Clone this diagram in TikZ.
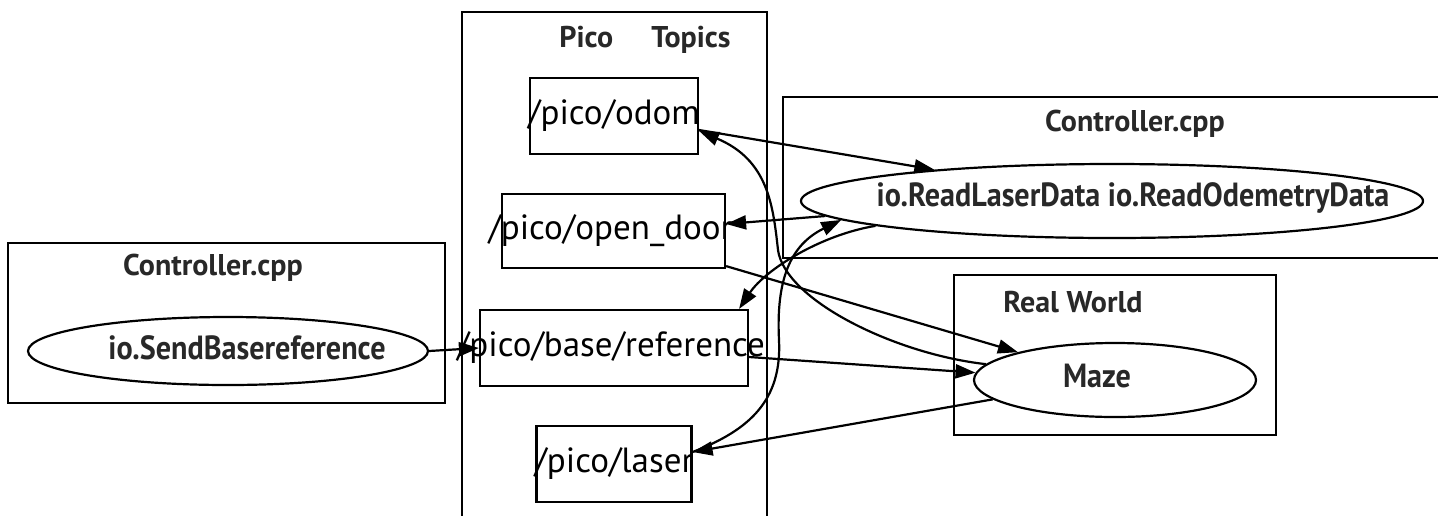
\documentclass[tikz,border=0pt]{standalone}
\usepackage{fontspec}
\setmainfont{PT Sans}
\newfontfamily\ellfont[FakeStretch=0.9]{PT Sans}
\usetikzlibrary{arrows.meta,shapes.geometric}
\definecolor{txtgray}{RGB}{40,40,40}
\begin{document}
\begin{tikzpicture}[x=1pt,y=-1pt,
  frame/.style={draw, line width=2.2pt, inner sep=0pt},
  topicbox/.style={draw, line width=2.2pt, inner sep=0pt, minimum height=76pt},
  topictext/.style={font=\fontsize{35}{42}\selectfont, inner sep=0pt},
  titletext/.style={font=\fontsize{30}{36}\selectfont\bfseries, text=txtgray, inner sep=0pt},
  ellnode/.style={draw, ellipse, line width=2.2pt, inner sep=0pt},
  elltext/.style={font=\ellfont\fontsize{33.5}{40}\selectfont\bfseries, text=txtgray, inner sep=0pt},
  conn/.style={line width=2.2pt, -{Triangle[length=20pt,width=14pt]}}
]
\useasboundingbox (0,0) rectangle (1438,515);
\fill[white] (0,0) rectangle (1438,515);

% Pico Topics frame (open at bottom)
\draw[line width=2.2pt] (462,520) -- (462,12) -- (767,12) -- (767,520);
\node[titletext] (picotitle) at (645,40) {Pico\hspace{38pt}Topics};

% topic boxes
\node[topicbox, minimum width=168pt] (odom) at (614,116) {};
\node[topictext] at (odom) {/pico/odom};
\node[topicbox, minimum width=223pt, minimum height=74pt] (odoor) at (613.5,231) {};
\node[topictext] at ([xshift=-3pt]odoor.center) {/pico/open\_door};
\node[topicbox, minimum width=268pt] (base) at (614,348) {};
\node[topictext] at ([xshift=-3pt]base.center) {/pico/base/reference};
\node[topicbox, minimum width=155pt] (laser) at (614,464) {};
\node[topictext] at (laser) {/pico/laser};

% left controller
\node[frame, minimum width=437pt, minimum height=160pt] (leftctl) at (226.5,323) {};
\node[titletext] (lefttitle) at (213,268) {Controller.cpp};
\node[ellnode, minimum width=400pt, minimum height=68pt] (send) at (228,351) {};
\node[elltext] at (247,348) {io.SendBasereference};

% right controller (open at right)
\draw[line width=2.2pt] (1440,97) -- (783,97) -- (783,258) -- (1440,258);
\node[titletext] (righttitle) at (1135,124) {Controller.cpp};
\node[ellnode, minimum width=622pt, minimum height=74pt] (ctrl) at (1112,201) {};
\node[elltext] at (1133,198) {io.ReadLaserData io.ReadOdemetryData};

% real world
\node[frame, minimum width=322pt, minimum height=160pt] (world) at (1115,355) {};
\node[titletext] (worldtitle) at (1073,302) {Real World};
\node[ellnode, minimum width=282pt, minimum height=74pt] (maze) at (1115,380) {};
\node[elltext] at (1097,376) {Maze};

% connectors
\draw[conn] (send.east) -- (base.west);
\draw[conn] ([yshift=-9pt]base.east) -- (maze.177);
\draw[conn] ([yshift=3pt]odoor.south east) -- (maze.164);
\draw[conn] (maze.173) .. controls (895,354) and (785,300) .. (778,250)
            .. controls (773,205) and (768,160) .. ([yshift=-15pt]odom.east);
\draw[conn] ([yshift=-14pt]odom.east) -- (ctrl.170);
\draw[conn] (ctrl.183.5) -- ([yshift=7pt]odoor.east);
\draw[conn] ([yshift=12pt]laser.east) .. controls (750,430) and (782,400) .. (779,340)
            .. controls (776,280) and (790,245) .. (ctrl.184.3);
\draw[conn] (ctrl.186) .. controls (820,235) and (765,270) .. ([xshift=-10pt]base.north east);
\draw[conn] (maze.189) -- ([yshift=12pt]laser.east);
\end{tikzpicture}
\end{document}
